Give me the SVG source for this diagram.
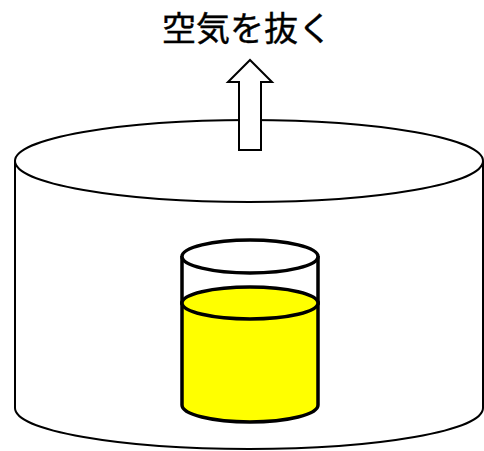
<svg xmlns="http://www.w3.org/2000/svg" width="484" height="451" viewBox="0 0 484 451">
  <style>
    .chamber { fill: #ffffff; stroke: #000000; stroke-width: 2; }
    .glass { fill: #ffffff; stroke: #000000; stroke-width: 3.5; }
    .liquid { fill: #ffff00; stroke: #000000; stroke-width: 3.5; }
    .arrow { fill: #ffffff; stroke: #000000; stroke-width: 2; }
    .label { font-family: "Noto Sans CJK JP", "Noto Sans", sans-serif; font-size: 34px; fill: #000000; stroke: #000000; stroke-width: 0.4; }
  </style>
  <rect width="484" height="451" fill="#ffffff"/>

  <!-- vacuum chamber -->
  <g id="chamber">
    <path class="chamber" d="M15,161 L15,408 A234,41 0 0 0 483,408 L483,161"/>
    <ellipse class="chamber" cx="249" cy="161" rx="234" ry="41"/>
  </g>

  <!-- beaker with yellow liquid -->
  <g id="beaker">
    <path class="glass" d="M182,256 L182,303 L318,303 L318,256"/>
    <path class="liquid" d="M182,303 L182,405 A68,17 0 0 0 318,405 L318,303 Z"/>
    <ellipse class="liquid" cx="250" cy="303" rx="68" ry="16"/>
    <ellipse class="glass" cx="250" cy="256.5" rx="68" ry="16.5"/>
  </g>

  <!-- exhaust arrow -->
  <g id="arrow">
    <polygon class="arrow" points="239,150 239,82 228,82 250,60 272,82 261,82 261,150"/>
  </g>

  <g id="label">
    <text class="label" x="247" y="41" text-anchor="middle">空気を抜く</text>
  </g>
</svg>
